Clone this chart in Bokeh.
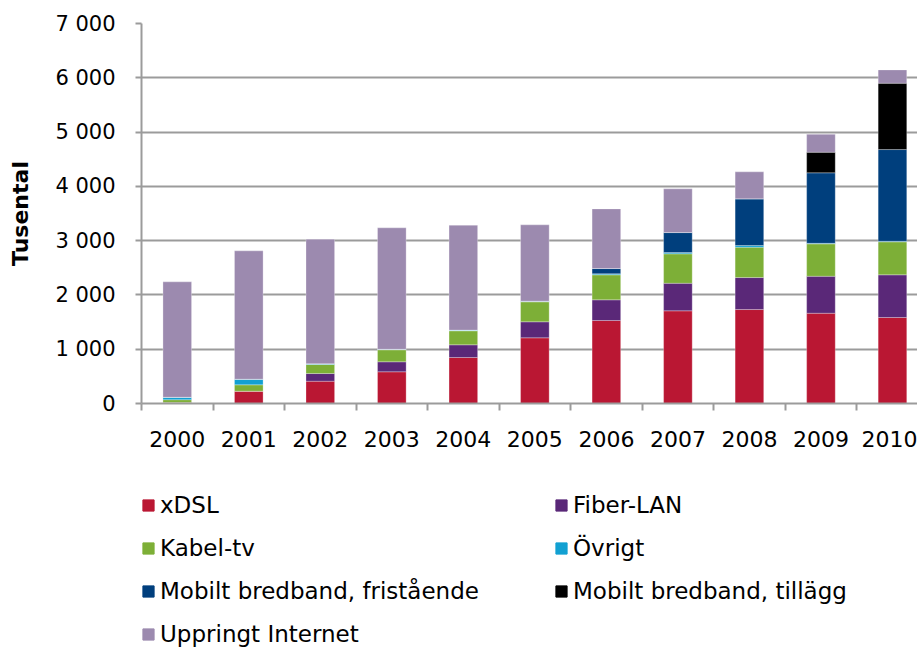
from bokeh.plotting import figure
from bokeh.layouts import column
from bokeh.models import Range1d, FixedTicker, Legend, LegendItem, ColumnDataSource
from bokeh.embed import file_html
from bokeh.resources import INLINE

years = ["2000", "2001", "2002", "2003", "2004", "2005", "2006", "2007", "2008", "2009", "2010"]
xdsl = [20, 227, 411, 584, 847, 1210, 1529, 1707, 1731, 1663, 1584]
fiber_lan = [0, 0, 141, 184, 234, 295, 381, 508, 589, 681, 786]
kabel_tv = [50, 117, 166, 221, 258, 368, 460, 542, 559, 597, 608]
ovrigt = [45, 104, 15, 10, 13, 12, 19, 24, 31, 10, 10]
mobilt_fristaende = [0, 0, 0, 0, 0, 0, 97, 368, 860, 1298, 1690]
mobilt_tillagg = [0, 0, 0, 0, 0, 0, 0, 0, 0, 379, 1221]
uppringt = [2126, 2364, 2293, 2237, 1932, 1406, 1099, 805, 497, 331, 246]

y_ticks = [0, 1000, 2000, 3000, 4000, 5000, 6000, 7000]

series_names = ["xDSL", "Fiber-LAN", "Kabel-tv", "Övrigt",
                "Mobilt bredband, fristående", "Mobilt bredband, tillägg", "Uppringt Internet"]
series_keys = ["xdsl", "fiber", "kabel", "ovrigt", "fri", "till", "upp"]
colors = ["#BA1733", "#5A2878", "#7DAF37", "#12A0D2", "#003F7D", "#000000", "#9C8AAF"]
# legend reading order (two columns, filled column by column)
legend_order = [0, 2, 4, 6, 1, 3, 5]

centers = [i + 0.5 for i in range(len(years))]
source = ColumnDataSource(dict(x=centers, xdsl=xdsl, fiber=fiber_lan, kabel=kabel_tv,
                               ovrigt=ovrigt, fri=mobilt_fristaende, till=mobilt_tillagg,
                               upp=uppringt))

FONT = "DejaVu Sans"
GRID = "#9b9b9b"

p = figure(width=917, height=460, output_backend="svg", toolbar_location=None,
           x_range=Range1d(0, 10.85), y_range=Range1d(0, 7000),
           min_border_left=141, min_border_right=0, min_border_top=23,
           min_border_bottom=57)
p.outline_line_color = None

renderers = p.vbar_stack(series_keys, x="x", width=0.4, source=source, color=colors,
                         line_color="white", line_alpha=0.35, line_width=0.8)

# axes
p.xaxis.ticker = FixedTicker(ticks=centers, minor_ticks=list(range(len(years) + 1)))
p.xaxis.major_label_overrides = {c: y for c, y in zip(centers, years)}
p.xaxis.major_tick_line_color = None
p.xaxis.minor_tick_out = 7
p.xaxis.minor_tick_in = 0
p.xaxis.minor_tick_line_color = GRID
p.xaxis.minor_tick_line_width = 2
p.xaxis.major_label_standoff = 20
p.xaxis.major_label_text_font = FONT
p.xaxis.major_label_text_font_size = "22px"
p.xaxis.major_label_text_color = "black"
p.xaxis.axis_line_color = GRID
p.xaxis.axis_line_width = 2

p.yaxis.ticker = FixedTicker(ticks=y_ticks)
p.yaxis.major_label_overrides = {t: f"{t:,}".replace(",", " ") for t in y_ticks}
p.yaxis.minor_tick_line_color = None
p.yaxis.major_tick_out = 6
p.yaxis.major_tick_in = 0
p.yaxis.major_tick_line_color = GRID
p.yaxis.major_tick_line_width = 2
p.yaxis.axis_line_color = GRID
p.yaxis.axis_line_width = 2
p.yaxis.major_label_standoff = 20
p.yaxis.major_label_text_font = FONT
p.yaxis.major_label_text_font_size = "21px"
p.yaxis.major_label_text_color = "black"
p.yaxis.axis_label = "Tusental"
p.yaxis.axis_label_text_font = FONT
p.yaxis.axis_label_text_font_style = "bold"
p.yaxis.axis_label_text_font_size = "22px"
p.yaxis.axis_label_text_color = "black"
p.yaxis.axis_label_standoff = 19

p.xgrid.grid_line_color = None
p.ygrid.ticker = FixedTicker(ticks=y_ticks)
p.ygrid.grid_line_color = GRID
p.ygrid.grid_line_width = 2

# legend panel: a second, axis-less figure whose frame holds only the legend
lg = figure(width=917, height=188, output_backend="svg", toolbar_location=None,
            x_range=Range1d(0, 1), y_range=Range1d(0, 1),
            x_axis_location=None, y_axis_location=None,
            min_border_left=0, min_border_right=0, min_border_top=0, min_border_bottom=0)
lg.outline_line_color = None
lg.xgrid.visible = False
lg.ygrid.visible = False
legend_renderers = lg.vbar_stack(series_keys, x="x", width=0.4, source=source, color=colors)
for r in legend_renderers:
    r.visible = False

items = [LegendItem(label=series_names[i], renderers=[legend_renderers[i]]) for i in legend_order]
legend = Legend(items=items, ncols=2, location=(0, 1),
                padding=0, margin=0, spacing=17, label_width=377, label_standoff=5,
                glyph_width=14, glyph_height=14, border_line_color=None,
                background_fill_alpha=0, inactive_fill_alpha=0, label_text_font=FONT,
                label_text_font_size="23px", label_text_color="black")
lg.add_layout(legend, "center")

page = column(p, lg, spacing=0)
open("out.html", "w").write(file_html(page, INLINE))
